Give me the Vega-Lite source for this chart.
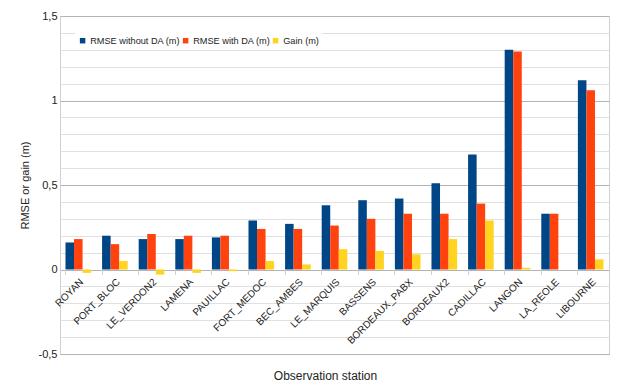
{
  "$schema": "https://vega.github.io/schema/vega-lite/v6.json",
  "autosize": "none",
  "width": 549,
  "height": 338,
  "padding": {"left": 60, "top": 16, "right": 19, "bottom": 34},
  "background": "white",
  "config": {
    "font": "Liberation Sans",
    "view": {"stroke": "#d0d0d0"},
    "axis": {"labelFont": "Liberation Sans", "titleFont": "Liberation Sans", "labelColor": "#222", "titleColor": "#222", "titleFontWeight": "normal"}
  },
  "data": {
    "values": [
      {"station": "ROYAN", "series": "RMSE without DA (m)", "value": 0.16},
      {"station": "ROYAN", "series": "RMSE with DA (m)", "value": 0.18},
      {"station": "ROYAN", "series": "Gain (m)", "value": -0.02},
      {"station": "PORT_BLOC", "series": "RMSE without DA (m)", "value": 0.2},
      {"station": "PORT_BLOC", "series": "RMSE with DA (m)", "value": 0.15},
      {"station": "PORT_BLOC", "series": "Gain (m)", "value": 0.05},
      {"station": "LE_VERDON2", "series": "RMSE without DA (m)", "value": 0.18},
      {"station": "LE_VERDON2", "series": "RMSE with DA (m)", "value": 0.21},
      {"station": "LE_VERDON2", "series": "Gain (m)", "value": -0.03},
      {"station": "LAMENA", "series": "RMSE without DA (m)", "value": 0.18},
      {"station": "LAMENA", "series": "RMSE with DA (m)", "value": 0.2},
      {"station": "LAMENA", "series": "Gain (m)", "value": -0.02},
      {"station": "PAUILLAC", "series": "RMSE without DA (m)", "value": 0.19},
      {"station": "PAUILLAC", "series": "RMSE with DA (m)", "value": 0.2},
      {"station": "PAUILLAC", "series": "Gain (m)", "value": -0.01},
      {"station": "FORT_MEDOC", "series": "RMSE without DA (m)", "value": 0.29},
      {"station": "FORT_MEDOC", "series": "RMSE with DA (m)", "value": 0.24},
      {"station": "FORT_MEDOC", "series": "Gain (m)", "value": 0.05},
      {"station": "BEC_AMBES", "series": "RMSE without DA (m)", "value": 0.27},
      {"station": "BEC_AMBES", "series": "RMSE with DA (m)", "value": 0.24},
      {"station": "BEC_AMBES", "series": "Gain (m)", "value": 0.03},
      {"station": "LE_MARQUIS", "series": "RMSE without DA (m)", "value": 0.38},
      {"station": "LE_MARQUIS", "series": "RMSE with DA (m)", "value": 0.26},
      {"station": "LE_MARQUIS", "series": "Gain (m)", "value": 0.12},
      {"station": "BASSENS", "series": "RMSE without DA (m)", "value": 0.41},
      {"station": "BASSENS", "series": "RMSE with DA (m)", "value": 0.3},
      {"station": "BASSENS", "series": "Gain (m)", "value": 0.11},
      {"station": "BORDEAUX_PABX", "series": "RMSE without DA (m)", "value": 0.42},
      {"station": "BORDEAUX_PABX", "series": "RMSE with DA (m)", "value": 0.33},
      {"station": "BORDEAUX_PABX", "series": "Gain (m)", "value": 0.09},
      {"station": "BORDEAUX2", "series": "RMSE without DA (m)", "value": 0.51},
      {"station": "BORDEAUX2", "series": "RMSE with DA (m)", "value": 0.33},
      {"station": "BORDEAUX2", "series": "Gain (m)", "value": 0.18},
      {"station": "CADILLAC", "series": "RMSE without DA (m)", "value": 0.68},
      {"station": "CADILLAC", "series": "RMSE with DA (m)", "value": 0.39},
      {"station": "CADILLAC", "series": "Gain (m)", "value": 0.29},
      {"station": "LANGON", "series": "RMSE without DA (m)", "value": 1.3},
      {"station": "LANGON", "series": "RMSE with DA (m)", "value": 1.29},
      {"station": "LANGON", "series": "Gain (m)", "value": 0.01},
      {"station": "LA_REOLE", "series": "RMSE without DA (m)", "value": 0.33},
      {"station": "LA_REOLE", "series": "RMSE with DA (m)", "value": 0.33},
      {"station": "LA_REOLE", "series": "Gain (m)", "value": 0.0},
      {"station": "LIBOURNE", "series": "RMSE without DA (m)", "value": 1.12},
      {"station": "LIBOURNE", "series": "RMSE with DA (m)", "value": 1.06},
      {"station": "LIBOURNE", "series": "Gain (m)", "value": 0.06}
    ]
  },
  "mark": {"type": "bar"},
  "encoding": {
    "x": {
      "field": "station",
      "type": "nominal",
      "sort": null,
      "scale": {"paddingInner": 0.3, "paddingOuter": 0.15},
      "axis": {
        "title": "Observation station",
        "titleFontSize": 12,
        "titleX": 265,
        "titleY": 110,
        "titleBaseline": "alphabetic",
        "titleAnchor": "middle",
        "labelAngle": -45,
        "labelFontSize": 10,
        "labelPadding": 2,
        "offset": -84.5,
        "domain": false,
        "grid": false,
        "ticks": true,
        "bandPosition": 0,
        "tickColor": "#d0d0d0",
        "tickSize": 5
      }
    },
    "xOffset": {
      "field": "series",
      "type": "nominal",
      "sort": ["RMSE without DA (m)", "RMSE with DA (m)", "Gain (m)"],
      "scale": {"paddingInner": 0, "paddingOuter": 0}
    },
    "y": {
      "field": "value",
      "type": "quantitative",
      "scale": {"domain": [-0.5, 1.5], "nice": false, "zero": false},
      "axis": {
        "title": "RMSE or gain (m)",
        "titleFontSize": 11,
        "titlePadding": 8,
        "labelFontSize": 11,
        "labelPadding": 3,
        "values": [-0.5, -0.4, -0.3, -0.2, -0.1, 0, 0.1, 0.2, 0.3, 0.4, 0.5, 0.6, 0.7, 0.8, 0.9, 1, 1.1, 1.2, 1.3, 1.4, 1.5],
        "labelExpr": "abs(datum.value*2 - round(datum.value*2)) < 0.001 ? replace(replace(format(datum.value, '.1~f'), '.', ','), '−', '-') : ''",
        "ticks": false,
        "domain": false,
        "grid": true,
        "gridColor": {"condition": {"test": "abs(datum.value*2 - round(datum.value*2)) < 0.001", "value": "#b3b3b3"}, "value": "#e0e0e0"}
      }
    },
    "color": {
      "field": "series",
      "type": "nominal",
      "scale": {
        "domain": ["RMSE without DA (m)", "RMSE with DA (m)", "Gain (m)"],
        "range": ["#004586", "#ff420e", "#ffd320"]
      },
      "legend": {
        "title": null,
        "orient": "none",
        "legendX": 15,
        "legendY": 17,
        "direction": "horizontal",
        "columns": 3,
        "symbolType": "square",
        "symbolSize": 30,
        "symbolStrokeWidth": 0,
        "labelFontSize": 9.2,
        "labelOffset": 3,
        "columnPadding": 0,
        "fillColor": "white",
        "padding": 3,
        "labelColor": "#222"
      }
    }
  }
}
